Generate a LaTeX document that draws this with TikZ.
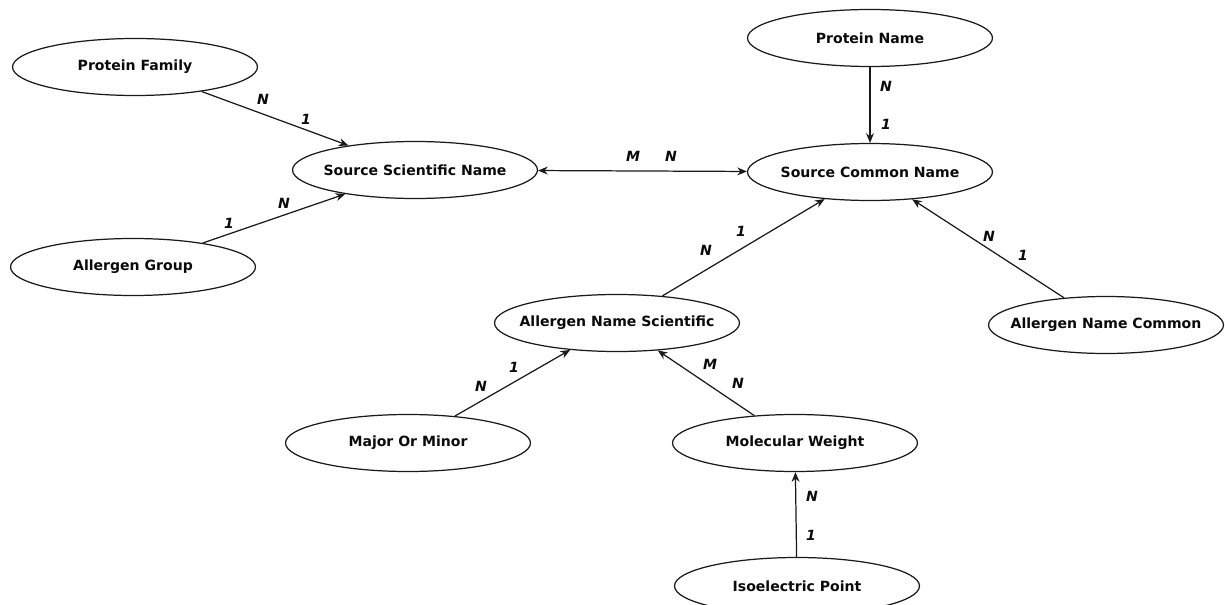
\documentclass[tikz,border=0pt]{standalone}
\usepackage{fontspec}
\setmainfont{DejaVu Sans}
\usetikzlibrary{arrows.meta,shapes.geometric}
\definecolor{cLine}{RGB}{25, 25, 25}
\definecolor{cText}{RGB}{10, 10, 10}

\begin{document}
\begin{tikzpicture}[
    x=0.02cm, y=-0.02cm,
    >={Stealth[length=5.5pt,width=4.5pt]},
    font=\fontsize{8}{9.6}\selectfont\bfseries,
    attr/.style={ellipse, draw=cLine, line width=0.7pt, text=cText,
        minimum width=4.9cm, minimum height=1.14cm,
        inner xsep=-0.3cm, inner ysep=0pt},
    card/.style={text=cText, font=\fontsize{8}{9.6}\selectfont\bfseries\itshape},
    rel/.style={->, cLine, line width=0.7pt}
]

    % ================= 画布范围 =================
    \useasboundingbox (0,0) rectangle (1225,605);
    \clip (0,0) rectangle (1225,605);

    % ================= 左侧: Source Scientific Name =================
    \node[attr] (pf)  at (135, 67)  {Protein Family};
    \node[attr] (ag)  at (133, 267) {Allergen Group};
    \node[attr] (ssn) at (415, 170) {Source Scientific Name};

    \draw[rel] (pf) -- (ssn);
    \node[card] (pfN) at (263, 99)  {N};
    \node[card] (pf1) at (306, 119) {1};

    \draw[rel] (ag) -- (ssn);
    \node[card] (ag1) at (229, 223) {1};
    \node[card] (agN) at (284, 203) {N};

    % ================= 右上: Source Common Name =================
    \node[attr] (pn)  at (870, 38)  {Protein Name};
    \node[attr] (scn) at (870, 172) {Source Common Name};

    \draw[rel, <->] (ssn) -- (scn);
    \node[card] (sM) at (633, 156) {M};
    \node[card] (sN) at (671, 156) {N};

    \draw[rel] (pn) -- (scn);
    \node[card] (pnN) at (886, 86)  {N};
    \node[card] (pn1) at (886, 124) {1};

    \node[attr, minimum width=4.7cm] (anc) at (1106, 325) {Allergen Name Common};
    \draw[rel] (anc) -- (scn);
    \node[card] (ancN) at (989, 236)  {N};
    \node[card] (anc1) at (1023, 255) {1};

    % ================= 中部: Allergen Name Scientific =================
    \node[attr] (ans) at (617, 323) {Allergen Name Scientific};
    \draw[rel] (ans) -- (scn);
    \node[card] (ansN) at (706, 250) {N};
    \node[card] (ans1) at (741, 231) {1};

    \node[attr] (mom) at (408, 443) {Major Or Minor};
    \draw[rel] (mom) -- (ans);
    \node[card] (momN) at (481, 386) {N};
    \node[card] (mom1) at (514, 367) {1};

    \node[attr] (mw) at (795, 443) {Molecular Weight};
    \draw[rel] (mw) -- (ans);
    \node[card] (mwM) at (710, 364) {M};
    \node[card] (mwN) at (738, 383) {N};

    % ================= 底部: Isoelectric Point =================
    \node[attr] (ip) at (797, 586) {Isoelectric Point};
    \draw[rel] (ip) -- (mw);
    \node[card] (ipN) at (812, 496) {N};
    \node[card] (ip1) at (811, 535) {1};

\end{tikzpicture}
\end{document}
